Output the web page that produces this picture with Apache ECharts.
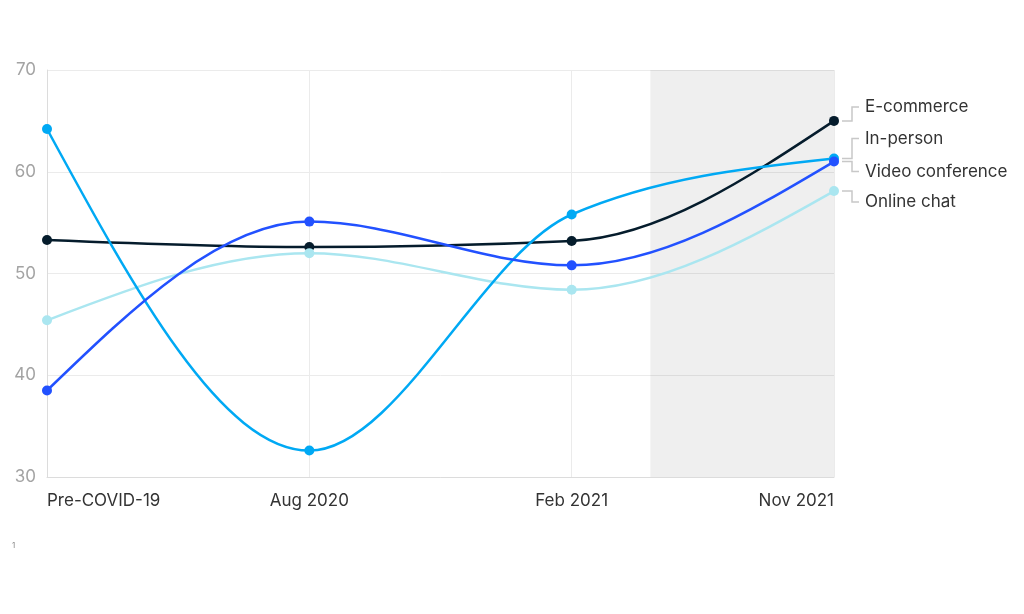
<!DOCTYPE html>
<html><head><meta charset="utf-8">
<script src="https://cdn.jsdelivr.net/npm/echarts@6/dist/echarts.min.js"></script>
<style>html,body{margin:0;padding:0;background:#fff}#c{width:1024px;height:614px}</style>
</head><body><div id="c"></div>
<script>
// ---- data ----
const categories = ['Pre-COVID-19', 'Aug 2020', 'Feb 2021', 'Nov 2021'];
const seriesNames = ['E-commerce', 'In-person', 'Video conference', 'Online chat'];
const ecommerce = [53.3, 52.6, 53.2, 65.0];
const inPerson = [64.2, 32.6, 55.8, 61.3];
const videoConference = [38.5, 55.1, 50.8, 61.0];
const onlineChat = [45.4, 52.0, 48.4, 58.1];
const yTicks = [30, 40, 50, 60, 70];
const shadeStart = 2.3;   // position on the category scale where the shaded period begins
const footnote = '1';

// ---- style ----
const colors = { 'E-commerce': '#051c2c', 'In-person': '#00a9f4', 'Video conference': '#2251ff', 'Online chat': '#aae6f0' };
const drawOrder = ['E-commerce', 'Online chat', 'In-person', 'Video conference'];
const labelDy = { 'E-commerce': -14, 'In-person': -20, 'Video conference': 10, 'Online chat': 11 };
const FONT = 'Inter, "Liberation Sans", Arial, sans-serif';

const valuesByName = {
  'E-commerce': ecommerce, 'In-person': inPerson,
  'Video conference': videoConference, 'Online chat': onlineChat
};

function monotoneTangents(pts) {
  const n = pts.length, t = new Array(n).fill(0), s = [], h = [];
  for (let i = 0; i < n - 1; i++) { h[i] = pts[i + 1][0] - pts[i][0]; s[i] = (pts[i + 1][1] - pts[i][1]) / h[i]; }
  for (let i = 1; i < n - 1; i++) {
    const p = (s[i - 1] * h[i] + s[i] * h[i - 1]) / (h[i - 1] + h[i]);
    t[i] = (Math.sign(s[i - 1]) + Math.sign(s[i])) * Math.min(Math.abs(s[i - 1]), Math.abs(s[i]), 0.5 * Math.abs(p)) || 0;
  }
  t[0] = (3 * s[0] - t[1]) / 2;
  t[n - 1] = (3 * s[n - 2] - t[n - 2]) / 2;
  return t;
}

function curveSeries(name, z) {
  const values = valuesByName[name];
  return {
    type: 'custom', name: name, coordinateSystem: 'cartesian2d', silent: true, z: z,
    data: values.map((v, i) => [i, v]), encode: { x: 0, y: 1 },
    renderItem(params, api) {
      const i = params.dataIndex;
      if (i >= values.length - 1) return null;
      const pts = values.map((v, j) => api.coord([j, v]));
      const t = monotoneTangents(pts);
      const [x0, y0] = pts[i], [x1, y1] = pts[i + 1], dx = (x1 - x0) / 3;
      return {
        type: 'bezierCurve',
        shape: { x1: x0, y1: y0, x2: x1, y2: y1, cpx1: x0 + dx, cpy1: y0 + dx * t[i], cpx2: x1 - dx, cpy2: y1 - dx * t[i + 1] },
        style: { fill: 'none', stroke: colors[name], lineWidth: 2.5 }
      };
    }
  };
}
function dotSeries(name, z) {
  return {
    type: 'scatter', name: name, silent: true, z: z, symbol: 'circle', symbolSize: 10,
    data: valuesByName[name].map((v, i) => [i, v]),
    itemStyle: { color: colors[name], opacity: 1 }
  };
}

const series = [];
drawOrder.forEach((n, k) => { series.push(curveSeries(n, 3 + k * 2)); series.push(dotSeries(n, 4 + k * 2)); });
series.push({
  type: 'scatter', data: [], silent: true, z: 1,
  markArea: {
    silent: true, itemStyle: { color: 'rgba(0,0,0,0.063)' },
    data: [[{ xAxis: shadeStart, yAxis: yTicks[yTicks.length - 1] }, { xAxis: categories.length - 1, yAxis: yTicks[0] }]]
  }
});

const chart = echarts.init(document.getElementById('c'), null, { renderer: 'canvas' });
chart.setOption({
  animation: false,
  backgroundColor: '#fff',
  grid: { left: 47, right: 190, top: 70, bottom: 137 },
  xAxis: {
    type: 'value', min: 0, max: categories.length - 1, interval: 1,
    axisLine: { show: true, lineStyle: { color: '#dcdcdc', width: 1 } },
    axisTick: { show: false },
    splitLine: { show: true, lineStyle: { color: '#ebebeb', width: 1 } },
    axisLabel: {
      formatter: v => categories[v] || '', color: '#333', fontFamily: FONT, fontSize: 17, margin: 15,
      alignMinLabel: 'left', alignMaxLabel: 'right'
    }
  },
  yAxis: {
    type: 'value', min: yTicks[0], max: yTicks[yTicks.length - 1], interval: 10,
    axisLine: { show: true, lineStyle: { color: '#dcdcdc', width: 1 } },
    axisTick: { show: false },
    splitLine: { show: true, lineStyle: { color: '#ebebeb', width: 1 } },
    axisLabel: { color: '#a3a3a3', fontFamily: FONT, fontSize: 17, margin: 11 }
  },
  series: series
});

// right-hand labels with bracket connectors, positioned from the data end points
const graphics = [];
seriesNames.forEach(name => {
  const vals = valuesByName[name];
  const [px, py] = chart.convertToPixel({ gridIndex: 0 }, [vals.length - 1, vals[vals.length - 1]]);
  const ly = py + labelDy[name];
  graphics.push({
    type: 'polyline', silent: true,
    shape: { points: [[px + 8, py], [px + 18, py], [px + 18, ly], [px + 25, ly]] },
    style: { stroke: '#c8c8c8', lineWidth: 1.5, fill: 'none' }
  });
  graphics.push({
    type: 'text', silent: true, x: px + 31, y: ly,
    style: { text: name, fill: '#333', font: '17px ' + FONT, textVerticalAlign: 'middle', verticalAlign: 'middle' }
  });
});
graphics.push({
  type: 'text', silent: true, left: 12, top: 542,
  style: { text: footnote, fill: '#888', font: '8px ' + FONT }
});
chart.setOption({ graphic: graphics });
</script>
</body></html>
